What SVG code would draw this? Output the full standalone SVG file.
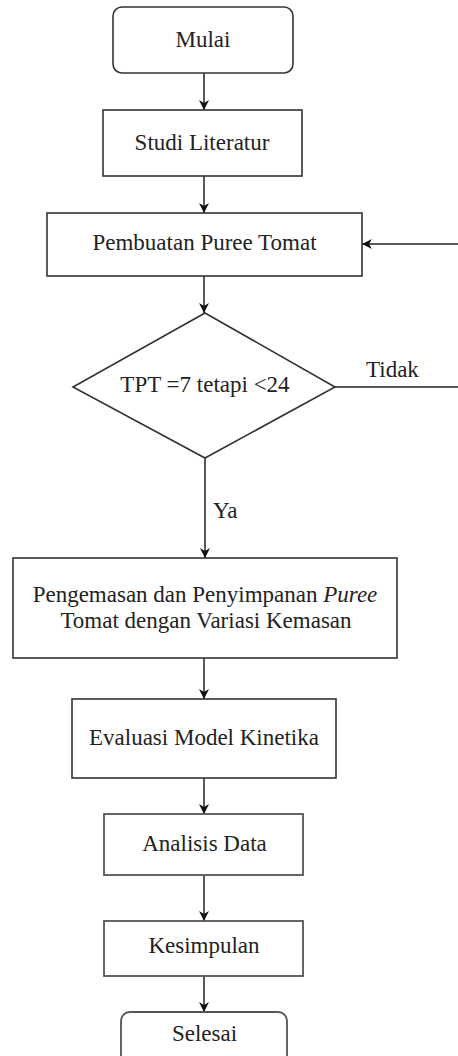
<svg xmlns="http://www.w3.org/2000/svg" width="458" height="1056" viewBox="0 0 458 1056">
<style>
.box{fill:#fff;stroke:#333;stroke-width:1.6}
.box2{fill:#fff;stroke:#555;stroke-width:1.8}
.t{font-family:'Liberation Serif','DejaVu Serif',serif;font-size:23px;fill:#222;text-anchor:middle}
.l{font-family:'Liberation Serif','DejaVu Serif',serif;font-size:23px;fill:#222}
.c{fill:none;stroke:#222;stroke-width:1.5}
</style>
<defs>
<marker id="ah" viewBox="0 0 10 10" refX="10" refY="5" markerWidth="10" markerHeight="10" markerUnits="userSpaceOnUse" orient="auto">
<path d="M0,0 L10,5 L0,10 L3,5 Z" fill="#111"/>
</marker>
</defs>
<g id="connectors">
<line class="c" x1="204" y1="73" x2="204" y2="110" marker-end="url(#ah)"/>
<line class="c" x1="204" y1="176" x2="204" y2="213" marker-end="url(#ah)"/>
<line class="c" x1="204" y1="276" x2="204" y2="313" marker-end="url(#ah)"/>
<line class="c" x1="205" y1="458" x2="205" y2="558" marker-end="url(#ah)"/>
<line class="c" x1="204" y1="658" x2="204" y2="699" marker-end="url(#ah)"/>
<line class="c" x1="204" y1="778" x2="204" y2="814" marker-end="url(#ah)"/>
<line class="c" x1="204" y1="875" x2="204" y2="921" marker-end="url(#ah)"/>
<line class="c" x1="204" y1="976" x2="204" y2="1012" marker-end="url(#ah)"/>
<line class="c" x1="335" y1="387" x2="458" y2="387"/>
<line class="c" x1="458" y1="244" x2="362" y2="244" marker-end="url(#ah)"/>
<text class="l" x="366" y="377">Tidak</text>
<text class="l" x="213" y="518">Ya</text>
</g>
<g id="mulai">
<rect class="box" x="113" y="7" width="180" height="66" rx="9"/>
<text class="t" x="203" y="47">Mulai</text>
</g>
<g id="studi">
<rect class="box" x="103" y="110" width="199" height="66"/>
<text class="t" x="202" y="150">Studi Literatur</text>
</g>
<g id="pembuatan">
<rect class="box" x="47" y="213" width="315" height="63"/>
<text class="t" x="204.5" y="250">Pembuatan Puree Tomat</text>
</g>
<g id="keputusan">
<polygon class="box" points="205,313 335,387 205,458 73,387"/>
<text class="t" x="205" y="392">TPT =7 tetapi &lt;24</text>
</g>
<g id="pengemasan">
<rect class="box" x="13" y="558" width="384" height="100"/>
<text class="t" x="205" y="602">Pengemasan dan Penyimpanan <tspan font-style="italic">Puree</tspan></text>
<text class="t" x="206" y="628">Tomat dengan Variasi Kemasan</text>
</g>
<g id="evaluasi">
<rect class="box" x="72" y="699" width="264" height="79"/>
<text class="t" x="204" y="745">Evaluasi Model Kinetika</text>
</g>
<g id="analisis">
<rect class="box2" x="104" y="814" width="199" height="61"/>
<text class="t" x="204.5" y="851">Analisis Data</text>
</g>
<g id="kesimpulan">
<rect class="box2" x="104" y="921" width="199" height="55"/>
<text class="t" x="204" y="953">Kesimpulan</text>
</g>
<g id="selesai">
<rect class="box2" x="121" y="1012" width="166" height="60" rx="9"/>
<text class="t" x="204.5" y="1041">Selesai</text>
</g>
</svg>
